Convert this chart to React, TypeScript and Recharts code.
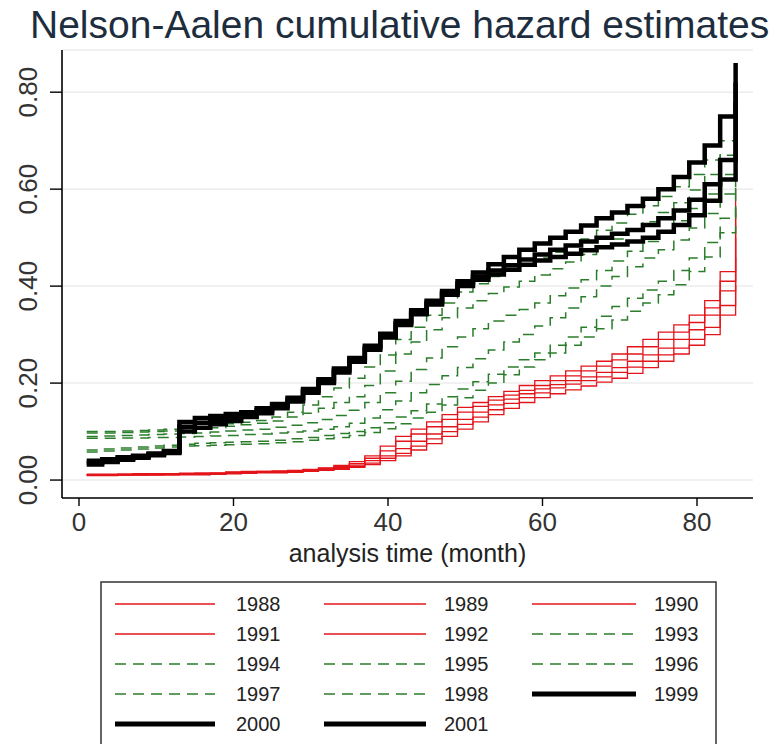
import React from "react";
import { LineChart, Line, XAxis, YAxis, CartesianGrid, Label } from "recharts";

// analysis time, every second month
const MONTHS = [1, 3, 5, 7, 9, 11, 13, 15, 17, 19, 21, 23, 25, 27, 29, 31, 33, 35, 37, 39, 41, 43, 45, 47, 49, 51, 53, 55, 57, 59, 61, 63, 65, 67, 69, 71, 73, 75, 77, 79, 81, 83, 85];

// cumulative hazard, one array per cohort year
const H1988 = [0.012, 0.012, 0.012, 0.013, 0.013, 0.013, 0.014, 0.014, 0.015, 0.017, 0.018, 0.018, 0.019, 0.02, 0.022, 0.025, 0.03, 0.038, 0.05, 0.07, 0.09, 0.105, 0.12, 0.135, 0.15, 0.16, 0.172, 0.183, 0.195, 0.205, 0.215, 0.225, 0.235, 0.245, 0.26, 0.275, 0.29, 0.305, 0.32, 0.34, 0.37, 0.43, 0.6];
const H1989 = [0.011, 0.011, 0.012, 0.012, 0.012, 0.013, 0.013, 0.014, 0.014, 0.016, 0.017, 0.018, 0.018, 0.019, 0.021, 0.024, 0.028, 0.034, 0.045, 0.06, 0.08, 0.095, 0.11, 0.125, 0.14, 0.152, 0.165, 0.175, 0.185, 0.195, 0.205, 0.215, 0.225, 0.235, 0.248, 0.26, 0.275, 0.29, 0.305, 0.325, 0.355, 0.41, 0.55];
const H1990 = [0.01, 0.011, 0.011, 0.011, 0.012, 0.012, 0.012, 0.013, 0.013, 0.015, 0.016, 0.017, 0.017, 0.018, 0.02, 0.022, 0.026, 0.031, 0.04, 0.05, 0.065, 0.08, 0.095, 0.11, 0.125, 0.14, 0.155, 0.167, 0.178, 0.188, 0.197, 0.205, 0.213, 0.222, 0.232, 0.245, 0.258, 0.272, 0.29, 0.31, 0.34, 0.39, 0.5];
const H1991 = [0.01, 0.01, 0.01, 0.011, 0.011, 0.011, 0.012, 0.012, 0.013, 0.014, 0.015, 0.016, 0.016, 0.017, 0.019, 0.021, 0.024, 0.028, 0.035, 0.045, 0.055, 0.07, 0.085, 0.1, 0.115, 0.13, 0.145, 0.158, 0.17, 0.18, 0.19, 0.198, 0.205, 0.213, 0.222, 0.233, 0.245, 0.258, 0.272, 0.29, 0.315, 0.36, 0.46];
const H1992 = [0.009, 0.009, 0.01, 0.01, 0.01, 0.011, 0.011, 0.011, 0.012, 0.013, 0.014, 0.015, 0.015, 0.016, 0.018, 0.02, 0.022, 0.026, 0.032, 0.04, 0.05, 0.062, 0.075, 0.09, 0.105, 0.12, 0.135, 0.148, 0.16, 0.17, 0.178, 0.186, 0.194, 0.202, 0.21, 0.22, 0.232, 0.245, 0.26, 0.278, 0.3, 0.34, 0.4];
const H1993 = [0.1, 0.1, 0.101, 0.102, 0.103, 0.105, 0.107, 0.11, 0.113, 0.116, 0.119, 0.123, 0.13, 0.14, 0.155, 0.172, 0.19, 0.21, 0.233, 0.258, 0.29, 0.315, 0.34, 0.365, 0.388, 0.405, 0.42, 0.433, 0.445, 0.458, 0.47, 0.483, 0.497, 0.515, 0.53, 0.548, 0.566, 0.585, 0.605, 0.63, 0.66, 0.7, 0.74];
const H1994 = [0.097, 0.097, 0.098, 0.099, 0.1, 0.101, 0.103, 0.105, 0.108, 0.111, 0.114, 0.117, 0.122, 0.13, 0.138, 0.148, 0.16, 0.172, 0.195, 0.225, 0.26, 0.285, 0.31, 0.335, 0.355, 0.37, 0.385, 0.398, 0.41, 0.423, 0.436, 0.45, 0.465, 0.48, 0.497, 0.515, 0.533, 0.552, 0.572, 0.598, 0.63, 0.67, 0.72];
const H1995 = [0.09, 0.091, 0.092, 0.093, 0.094, 0.095, 0.096, 0.097, 0.099, 0.101, 0.103, 0.105, 0.109, 0.113, 0.118, 0.125, 0.133, 0.144, 0.16, 0.18, 0.204, 0.228, 0.252, 0.275, 0.295, 0.312, 0.328, 0.34, 0.352, 0.365, 0.38, 0.396, 0.413, 0.432, 0.452, 0.472, 0.492, 0.512, 0.535, 0.56, 0.59, 0.63, 0.7];
const H1996 = [0.086, 0.086, 0.087, 0.087, 0.088, 0.088, 0.089, 0.09, 0.091, 0.092, 0.094, 0.095, 0.097, 0.099, 0.101, 0.105, 0.11, 0.117, 0.128, 0.145, 0.163, 0.18, 0.197, 0.215, 0.232, 0.25, 0.268, 0.285, 0.3, 0.318, 0.335, 0.355, 0.378, 0.4, 0.42, 0.44, 0.458, 0.475, 0.495, 0.52, 0.55, 0.59, 0.67];
const H1997 = [0.062, 0.064, 0.066, 0.068, 0.07, 0.072, 0.074, 0.076, 0.077, 0.078, 0.079, 0.08, 0.082, 0.085, 0.088, 0.092, 0.096, 0.1, 0.108, 0.118, 0.13, 0.143, 0.157, 0.172, 0.188, 0.203, 0.218, 0.233, 0.248, 0.262, 0.278, 0.295, 0.315, 0.338, 0.358, 0.375, 0.392, 0.41, 0.432, 0.458, 0.49, 0.54, 0.62];
const H1998 = [0.058, 0.06, 0.062, 0.064, 0.066, 0.068, 0.07, 0.071, 0.072, 0.073, 0.074, 0.075, 0.077, 0.079, 0.082, 0.085, 0.088, 0.092, 0.098, 0.106, 0.116, 0.128, 0.14, 0.155, 0.17, 0.185, 0.2, 0.217, 0.233, 0.248, 0.262, 0.278, 0.295, 0.312, 0.33, 0.348, 0.365, 0.382, 0.403, 0.43, 0.46, 0.51, 0.58];
const H1999 = [0.04, 0.043, 0.047, 0.05, 0.055, 0.06, 0.12, 0.128, 0.132, 0.136, 0.14, 0.148, 0.157, 0.17, 0.188, 0.208, 0.23, 0.252, 0.277, 0.302, 0.328, 0.35, 0.37, 0.39, 0.41, 0.428, 0.445, 0.46, 0.475, 0.488, 0.5, 0.512, 0.525, 0.54, 0.552, 0.565, 0.58, 0.6, 0.625, 0.655, 0.69, 0.75, 0.86];
const H2000 = [0.036, 0.04, 0.044, 0.048, 0.053, 0.058, 0.11, 0.118, 0.124, 0.13, 0.136, 0.144, 0.153, 0.166, 0.184, 0.204, 0.226, 0.248, 0.273, 0.298, 0.324, 0.346, 0.366, 0.386, 0.406, 0.42, 0.432, 0.443, 0.455, 0.465, 0.475, 0.484, 0.492, 0.5, 0.508, 0.516, 0.526, 0.54, 0.556, 0.578, 0.61, 0.66, 0.82];
const H2001 = [0.032, 0.037, 0.042, 0.046, 0.051, 0.056, 0.1, 0.108, 0.115, 0.122, 0.13, 0.138, 0.148, 0.162, 0.18, 0.2, 0.222, 0.244, 0.269, 0.294, 0.32, 0.342, 0.362, 0.382, 0.4, 0.413, 0.424, 0.434, 0.444, 0.453, 0.46, 0.467, 0.474, 0.48, 0.486, 0.492, 0.5, 0.512, 0.526, 0.546, 0.576, 0.62, 0.78];

const YEARS = ["1988", "1989", "1990", "1991", "1992", "1993", "1994", "1995", "1996", "1997", "1998", "1999", "2000", "2001"];
const SERIES = [H1988, H1989, H1990, H1991, H1992, H1993, H1994, H1995, H1996, H1997, H1998, H1999, H2000, H2001];

const X_TICKS = [0, 20, 40, 60, 80];
const Y_TICKS = [0, 0.2, 0.4, 0.6, 0.8];

const FONT = "'Liberation Sans', Arial, sans-serif";

// line look per group of cohorts
const styleFor = (year: string) => {
  const y = Number(year);
  if (y <= 1992) return { stroke: "#e3151a", strokeWidth: 1.3, dash: undefined, legendWidth: 1.3 };
  if (y <= 1998) return { stroke: "#2a7d2a", strokeWidth: 1.5, dash: "11 7", legendWidth: 1.5 };
  return { stroke: "#000000", strokeWidth: 4.5, dash: undefined, legendWidth: 5 };
};

const data = MONTHS.map((m, i) => {
  const row: Record<string, number> = { month: m };
  YEARS.forEach((yr, k) => {
    row["y" + yr] = SERIES[k][i];
  });
  return row;
});

const YTick = (props: any) => {
  const { y, payload } = props;
  return (
    <g>
      <text
        x={37}
        y={y}
        transform={`rotate(-90, 37, ${y})`}
        textAnchor="middle"
        fontSize={26}
        fontFamily={FONT}
        fill="#333"
      >
        {Number(payload.value).toFixed(2)}
      </text>
    </g>
  );
};

const LegendBox = () => {
  const colLine = [
    [115, 215, 236],
    [324, 426, 444],
    [532, 636, 654],
  ];
  const rowY = [604, 634, 664, 694, 724];
  return (
    <svg
      width={782}
      height={744}
      style={{ position: "absolute", left: 0, top: 0, pointerEvents: "none" }}
    >
      <text x={30} y={38} fontSize={39} fontFamily={FONT} fill="#1d2d3d">
        Nelson-Aalen cumulative hazard estimates
      </text>
      <rect x={101} y={582} width={615} height={180} fill="none" stroke="#333" strokeWidth={1.5} />
      {YEARS.map((yr, i) => {
        const st = styleFor(yr);
        const [x1, x2, tx] = colLine[i % 3];
        const y = rowY[Math.floor(i / 3)];
        return (
          <g key={yr}>
            <line x1={x1} x2={x2} y1={y} y2={y} stroke={st.stroke} strokeWidth={st.legendWidth} strokeDasharray={st.dash} />
            <text x={tx} y={y + 7} fontSize={20} fontFamily={FONT} fill="#222">
              {yr}
            </text>
          </g>
        );
      })}
    </svg>
  );
};

export default function App() {
  return (
    <div style={{ position: "absolute", left: 0, top: 0, width: 782, height: 744, background: "#fff" }}>
      <LineChart
        width={782}
        height={744}
        data={data}
        margin={{ top: 50, right: 29, bottom: 186, left: 12 }}
      >
        <CartesianGrid horizontal vertical={false} stroke="#ececec" strokeWidth={1.5} />
        <XAxis
          dataKey="month"
          type="number"
          domain={[-2.2, 87.25]}
          ticks={X_TICKS}
          allowDataOverflow
          height={60}
          tickSize={8}
          tickMargin={7}
          tick={{ fontSize: 26, fontFamily: FONT, fill: "#333" }}
          axisLine={{ stroke: "#000", strokeWidth: 1.6 }}
          tickLine={{ stroke: "#000", strokeWidth: 1.4 }}
        >
          <Label
            content={(p: any) => {
              const vb = p.viewBox;
              return (
                <text
                  x={vb.x + vb.width / 2}
                  y={vb.y + 64}
                  textAnchor="middle"
                  fontSize={25}
                  fontFamily={FONT}
                  fill="#222"
                >
                  analysis time (month)
                </text>
              );
            }}
          />
        </XAxis>
        <YAxis
          type="number"
          domain={[-0.037, 0.887]}
          ticks={Y_TICKS}
          allowDataOverflow
          width={50}
          tickSize={12}
          tick={<YTick />}
          axisLine={{ stroke: "#000", strokeWidth: 1.6 }}
          tickLine={{ stroke: "#000", strokeWidth: 1.4 }}
        />
        {YEARS.map((yr) => {
          const st = styleFor(yr);
          return (
            <Line
              key={yr}
              type="stepAfter"
              dataKey={"y" + yr}
              name={yr}
              stroke={st.stroke}
              strokeWidth={st.strokeWidth}
              strokeDasharray={st.dash}
              dot={false}
              activeDot={false}
              isAnimationActive={false}
            />
          );
        })}
      </LineChart>
      <LegendBox />
    </div>
  );
}
